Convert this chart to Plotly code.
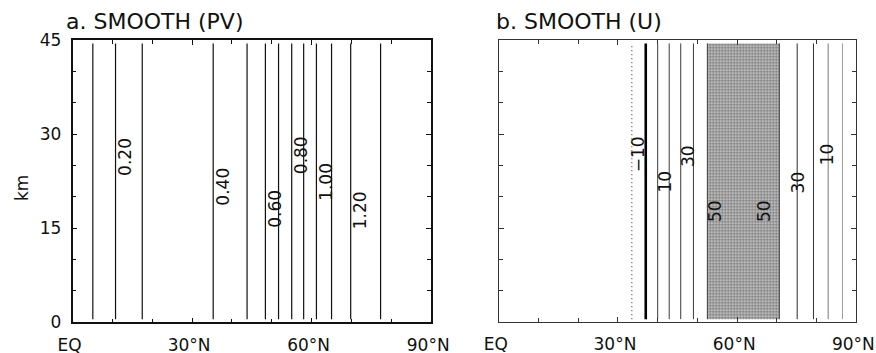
import plotly.graph_objects as go

# ---- Panel a: potential vorticity contours (PV varies with latitude only) ----
pv_levels = [0.1, 0.2, 0.3, 0.4, 0.5, 0.6, 0.7, 0.8, 0.9, 1.0, 1.1, 1.2, 1.3]
pv_lats = [5.1, 10.8, 17.5, 35.3, 43.8, 48.4, 51.7, 55.0, 58.0, 61.2, 65.0, 69.8, 77.3]
pv_label_levels = [0.2, 0.4, 0.6, 0.8, 1.0, 1.2]
pv_label_km = [26.4, 21.6, 18.1, 26.7, 22.4, 17.9]

# ---- Panel b: zonal wind (m/s), equatorward and poleward flanks of the jet ----
u_levels_eq = [-10, 0, 10, 20, 30, 40, 50]
u_lats_eq = [33.5, 37.0, 40.0, 42.9, 45.8, 49.0, 52.5]
u_levels_pole = [50, 40, 30, 20, 10]
u_lats_pole = [70.6, 75.1, 79.2, 82.9, 86.5]
u_label_levels_eq = [-10, 10, 30, 50]
u_label_km_eq = [26.8, 22.4, 26.5, 17.8]
u_label_levels_pole = [50, 30, 10]
u_label_km_pole = [17.8, 22.4, 26.9]
u_shade_min = 50

# vertical extent of the model grid (km)
z_bottom, z_top = 0.5, 44.5

lat_ticks = [0, 30, 60, 90]
lat_ticktext = ["EQ", "30°N", "60°N", "90°N"]
km_ticks = [0, 15, 30, 45]

W, H = 876, 353
FONT = "DejaVu Sans"

fig = go.Figure()


def vline(lat, xaxis, color, width, dash="solid"):
    fig.add_trace(go.Scatter(
        x=[lat, lat], y=[z_bottom, z_top], mode="lines",
        line=dict(color=color, width=width, dash=dash),
        xaxis=xaxis, yaxis="y" if xaxis == "x" else "y2",
        hoverinfo="skip", showlegend=False))


# panel a contours
for lev, lat in zip(pv_levels, pv_lats):
    vline(lat, "x", "#111111", 1.2)

# panel b: shaded region where U exceeds 50 m/s
u_eq = dict(zip(u_levels_eq, u_lats_eq))
u_pole = dict(zip(u_levels_pole, u_lats_pole))
s0, s1 = u_eq[u_shade_min], u_pole[u_shade_min]
fig.add_trace(go.Scatter(
    x=[s0, s1, s1, s0, s0], y=[z_bottom, z_bottom, z_top, z_top, z_bottom],
    mode="lines", fill="toself", line=dict(width=0, color="rgba(0,0,0,0)"),
    fillcolor="#c0c0c0",
    fillpattern=dict(shape=".", size=3, solidity=0.5,
                     fgcolor="#777777", bgcolor="#d2d2d2"),
    xaxis="x2", yaxis="y2", hoverinfo="skip", showlegend=False))


def u_style(lev):
    if lev < 0:
        return "#333333", 1.1, "1px,3px"
    if lev == 0:
        return "#000000", 2.6, "solid"
    return "#3a3a3a", 1.0, "solid"


for lev, lat in zip(u_levels_eq, u_lats_eq):
    c, w, d = u_style(lev)
    vline(lat, "x2", c, w, d)
pole_colors = {50: "#3a3a3a", 40: "#2a2a2a", 30: "#333333", 20: "#777777", 10: "#a0a0a0"}
for lev, lat in zip(u_levels_pole, u_lats_pole):
    c, w, d = u_style(lev)
    vline(lat, "x2", pole_colors.get(lev, c), w, d)

annotations = []
label_font = dict(family=FONT, size=17, color="#111111")

for lev, km in zip(pv_label_levels, pv_label_km):
    lat = pv_lats[pv_levels.index(lev)]
    annotations.append(dict(
        x=lat, y=km, xref="x", yref="y", text=f"{lev:.2f}", textangle=-90,
        xanchor="left", yanchor="middle", xshift=-2.5, showarrow=False,
        font=label_font))


def u_text(lev):
    return f"−{abs(lev)}" if lev < 0 else f"{lev}"


for lev, km in zip(u_label_levels_eq, u_label_km_eq):
    annotations.append(dict(
        x=u_eq[lev], y=km, xref="x2", yref="y2", text=u_text(lev), textangle=-90,
        xanchor="left", yanchor="middle", xshift=-5, showarrow=False,
        font=label_font))
for lev, km in zip(u_label_levels_pole, u_label_km_pole):
    annotations.append(dict(
        x=u_pole[lev], y=km, xref="x2", yref="y2", text=u_text(lev), textangle=-90,
        xanchor="right", yanchor="middle", xshift=-4, showarrow=False,
        font=label_font))

# panel titles and axis title
annotations += [
    dict(x=64 / W, y=1 - 22 / H, xref="paper", yref="paper", text="a. SMOOTH (PV)",
         xanchor="left", yanchor="middle", showarrow=False,
         font=dict(family=FONT, size=22, color="#111111")),
    dict(x=494 / W, y=1 - 22 / H, xref="paper", yref="paper", text="b. SMOOTH (U)",
         xanchor="left", yanchor="middle", showarrow=False,
         font=dict(family=FONT, size=22, color="#111111")),
    dict(x=22 / W, y=1 - 188 / H, xref="paper", yref="paper", text="km",
         textangle=-90, xanchor="center", yanchor="middle", showarrow=False,
         font=dict(family=FONT, size=17, color="#111111")),
]

ydom = [1 - 322.3 / H, 1 - 40.3 / H]
tick_font = dict(family=FONT, size=17, color="#111111")


def xaxis(domain, color, lw):
    return dict(domain=domain, range=[0, 90], tickvals=lat_ticks, ticktext=lat_ticktext,
                ticks="inside", ticklen=5, tickwidth=1, tickcolor=color,
                minor=dict(dtick=10, tick0=0, ticks="inside", ticklen=4,
                           tickcolor=color, tickwidth=1),
                showline=True, linecolor=color, linewidth=lw, mirror="ticks",
                showgrid=False, zeroline=False, tickfont=tick_font, automargin=False,
                ticklabelstandoff=6, ticklabelshift=-3, fixedrange=True)


def yaxis(anchor, color, lw, labels):
    return dict(domain=ydom, range=[0, 45], tickvals=km_ticks, anchor=anchor,
                ticks="inside", ticklen=5, tickwidth=1, tickcolor=color,
                minor=dict(dtick=5, tick0=0, ticks="inside", ticklen=4,
                           tickcolor=color, tickwidth=1),
                showline=True, linecolor=color, linewidth=lw, mirror="ticks",
                showgrid=False, zeroline=False, tickfont=tick_font, automargin=False,
                showticklabels=labels, ticklabelstandoff=6, fixedrange=True)


fig.update_layout(
    template="none",
    width=W, height=H, margin=dict(l=0, r=0, t=0, b=0, pad=0),
    paper_bgcolor="white", plot_bgcolor="white",
    xaxis=dict(xaxis([72.5 / W, 431.2 / W], "#111111", 1.6), anchor="y"),
    yaxis=yaxis("x", "#111111", 1.6, True),
    xaxis2=dict(xaxis([498.7 / W, 856.4 / W], "#333333", 1.1), anchor="y2"),
    yaxis2=yaxis("x2", "#333333", 1.1, False),
    annotations=annotations,
    showlegend=False,
)

fig.write_html("out.html")
